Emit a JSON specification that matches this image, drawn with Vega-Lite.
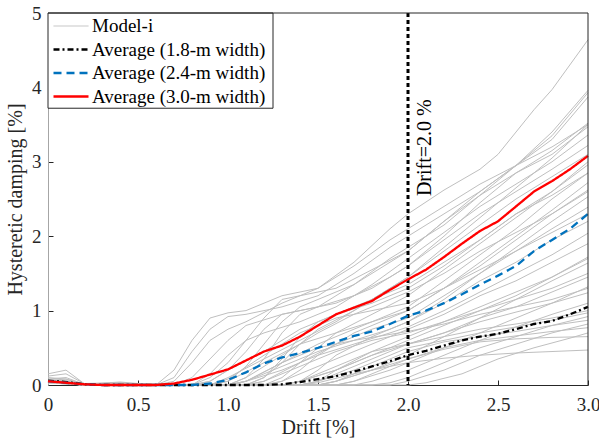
{
"$schema":"https://vega.github.io/schema/vega-lite/v6.json",
"width":540,"height":372,
"autosize":{"type":"none"},
"padding":{"left":48,"top":13,"right":11,"bottom":56},
"config":{
 "font":"Liberation Serif",
 "view":{"stroke":null}
},
"datasets":{
"models":[
{"m":1,"x":0,"y":0.06},{"m":1,"x":0.1,"y":0.05},{"m":1,"x":0.2,"y":0.01},{"m":1,"x":0.4,"y":0.03},{"m":1,"x":0.5,"y":0.01},{"m":1,"x":0.6,"y":0},{"m":1,"x":0.7,"y":0.2},{"m":1,"x":0.8,"y":0.6},{"m":1,"x":0.9,"y":0.9},{"m":1,"x":1.0,"y":0.97},{"m":1,"x":1.1,"y":1.0},{"m":1,"x":1.3,"y":1.2},{"m":1,"x":1.5,"y":1.3},{"m":1,"x":1.7,"y":1.65},{"m":1,"x":1.9,"y":2.1},{"m":1,"x":2.0,"y":2.3},{"m":1,"x":2.2,"y":2.62},{"m":1,"x":2.4,"y":2.9},{"m":1,"x":2.5,"y":3.1},{"m":1,"x":2.6,"y":3.4},{"m":1,"x":2.7,"y":3.7},{"m":1,"x":2.8,"y":3.97},{"m":1,"x":3.0,"y":4.64},
{"m":2,"x":0,"y":0.15},{"m":2,"x":0.1,"y":0.2},{"m":2,"x":0.2,"y":0.02},{"m":2,"x":0.4,"y":0.02},{"m":2,"x":0.6,"y":0},{"m":2,"x":0.7,"y":0.1},{"m":2,"x":0.8,"y":0.45},{"m":2,"x":0.9,"y":0.75},{"m":2,"x":1.0,"y":0.92},{"m":2,"x":1.1,"y":0.95},{"m":2,"x":1.3,"y":1.05},{"m":2,"x":1.5,"y":1.2},{"m":2,"x":1.7,"y":1.5},{"m":2,"x":1.9,"y":1.85},{"m":2,"x":2.0,"y":2.0},{"m":2,"x":2.2,"y":2.3},{"m":2,"x":2.4,"y":2.6},{"m":2,"x":2.6,"y":2.95},{"m":2,"x":2.8,"y":3.4},{"m":2,"x":3.0,"y":3.96},
{"m":3,"x":0,"y":0.04},{"m":3,"x":0.1,"y":0.03},{"m":3,"x":0.2,"y":0},{"m":3,"x":0.7,"y":0},{"m":3,"x":0.8,"y":0.1},{"m":3,"x":0.9,"y":0.35},{"m":3,"x":1.0,"y":0.6},{"m":3,"x":1.1,"y":0.8},{"m":3,"x":1.3,"y":0.95},{"m":3,"x":1.5,"y":1.05},{"m":3,"x":1.7,"y":1.35},{"m":3,"x":1.9,"y":1.7},{"m":3,"x":2.0,"y":1.85},{"m":3,"x":2.2,"y":2.15},{"m":3,"x":2.4,"y":2.55},{"m":3,"x":2.6,"y":2.95},{"m":3,"x":2.8,"y":3.35},{"m":3,"x":3.0,"y":3.93},
{"m":4,"x":0,"y":0.08},{"m":4,"x":0.1,"y":0.1},{"m":4,"x":0.2,"y":0.01},{"m":4,"x":0.4,"y":0.04},{"m":4,"x":0.5,"y":0.02},{"m":4,"x":0.8,"y":0},{"m":4,"x":0.9,"y":0.1},{"m":4,"x":1.0,"y":0.3},{"m":4,"x":1.1,"y":0.6},{"m":4,"x":1.2,"y":0.9},{"m":4,"x":1.3,"y":1.15},{"m":4,"x":1.4,"y":1.2},{"m":4,"x":1.6,"y":1.3},{"m":4,"x":1.8,"y":1.55},{"m":4,"x":2.0,"y":1.8},{"m":4,"x":2.2,"y":2.2},{"m":4,"x":2.4,"y":2.6},{"m":4,"x":2.6,"y":2.95},{"m":4,"x":2.8,"y":3.3},{"m":4,"x":3.0,"y":3.87},
{"m":5,"x":0,"y":0.03},{"m":5,"x":0.2,"y":0},{"m":5,"x":0.8,"y":0},{"m":5,"x":0.9,"y":0.05},{"m":5,"x":1.0,"y":0.2},{"m":5,"x":1.1,"y":0.45},{"m":5,"x":1.2,"y":0.75},{"m":5,"x":1.3,"y":0.95},{"m":5,"x":1.4,"y":1.0},{"m":5,"x":1.6,"y":1.1},{"m":5,"x":1.8,"y":1.3},{"m":5,"x":2.0,"y":1.6},{"m":5,"x":2.2,"y":2.0},{"m":5,"x":2.4,"y":2.45},{"m":5,"x":2.6,"y":2.85},{"m":5,"x":2.8,"y":3.15},{"m":5,"x":3.0,"y":3.52},
{"m":6,"x":0,"y":0.05},{"m":6,"x":0.1,"y":0.04},{"m":6,"x":0.2,"y":0},{"m":6,"x":0.9,"y":0},{"m":6,"x":1.0,"y":0.05},{"m":6,"x":1.1,"y":0.25},{"m":6,"x":1.2,"y":0.55},{"m":6,"x":1.3,"y":0.85},{"m":6,"x":1.4,"y":1.05},{"m":6,"x":1.5,"y":1.15},{"m":6,"x":1.7,"y":1.35},{"m":6,"x":1.9,"y":1.65},{"m":6,"x":2.0,"y":1.8},{"m":6,"x":2.2,"y":2.2},{"m":6,"x":2.4,"y":2.55},{"m":6,"x":2.6,"y":2.85},{"m":6,"x":2.8,"y":3.1},{"m":6,"x":3.0,"y":3.47},
{"m":7,"x":0,"y":0.06},{"m":7,"x":0.1,"y":0.05},{"m":7,"x":0.2,"y":0.01},{"m":7,"x":0.8,"y":0},{"m":7,"x":0.9,"y":0.15},{"m":7,"x":1.0,"y":0.4},{"m":7,"x":1.1,"y":0.6},{"m":7,"x":1.2,"y":0.7},{"m":7,"x":1.4,"y":0.85},{"m":7,"x":1.6,"y":1.05},{"m":7,"x":1.8,"y":1.35},{"m":7,"x":2.0,"y":1.7},{"m":7,"x":2.2,"y":2.05},{"m":7,"x":2.4,"y":2.4},{"m":7,"x":2.6,"y":2.7},{"m":7,"x":2.8,"y":3.0},{"m":7,"x":3.0,"y":3.36},
{"m":8,"x":0,"y":0.04},{"m":8,"x":0.2,"y":0},{"m":8,"x":1.0,"y":0},{"m":8,"x":1.1,"y":0.1},{"m":8,"x":1.2,"y":0.35},{"m":8,"x":1.3,"y":0.7},{"m":8,"x":1.4,"y":0.95},{"m":8,"x":1.5,"y":1.05},{"m":8,"x":1.7,"y":1.2},{"m":8,"x":1.9,"y":1.45},{"m":8,"x":2.0,"y":1.6},{"m":8,"x":2.2,"y":1.95},{"m":8,"x":2.4,"y":2.3},{"m":8,"x":2.6,"y":2.6},{"m":8,"x":2.8,"y":2.9},{"m":8,"x":3.0,"y":3.22},
{"m":9,"x":0,"y":0.05},{"m":9,"x":0.1,"y":0.04},{"m":9,"x":0.2,"y":0},{"m":9,"x":0.9,"y":0},{"m":9,"x":1.0,"y":0.1},{"m":9,"x":1.2,"y":0.35},{"m":9,"x":1.4,"y":0.6},{"m":9,"x":1.6,"y":0.85},{"m":9,"x":1.8,"y":1.15},{"m":9,"x":2.0,"y":1.45},{"m":9,"x":2.2,"y":1.8},{"m":9,"x":2.4,"y":2.15},{"m":9,"x":2.6,"y":2.5},{"m":9,"x":2.8,"y":2.8},{"m":9,"x":3.0,"y":3.1},
{"m":10,"x":0,"y":0.1},{"m":10,"x":0.1,"y":0.08},{"m":10,"x":0.2,"y":0.01},{"m":10,"x":0.8,"y":0},{"m":10,"x":0.9,"y":0.05},{"m":10,"x":1.0,"y":0.2},{"m":10,"x":1.2,"y":0.45},{"m":10,"x":1.4,"y":0.75},{"m":10,"x":1.6,"y":0.95},{"m":10,"x":1.8,"y":1.15},{"m":10,"x":2.0,"y":1.35},{"m":10,"x":2.2,"y":1.65},{"m":10,"x":2.4,"y":1.95},{"m":10,"x":2.6,"y":2.3},{"m":10,"x":2.8,"y":2.6},{"m":10,"x":3.0,"y":2.96},
{"m":11,"x":0,"y":0.04},{"m":11,"x":0.2,"y":0},{"m":11,"x":1.1,"y":0},{"m":11,"x":1.2,"y":0.1},{"m":11,"x":1.3,"y":0.35},{"m":11,"x":1.4,"y":0.65},{"m":11,"x":1.5,"y":0.85},{"m":11,"x":1.6,"y":0.95},{"m":11,"x":1.8,"y":1.1},{"m":11,"x":2.0,"y":1.3},{"m":11,"x":2.2,"y":1.6},{"m":11,"x":2.4,"y":1.95},{"m":11,"x":2.6,"y":2.3},{"m":11,"x":2.8,"y":2.55},{"m":11,"x":3.0,"y":2.85},
{"m":12,"x":0,"y":0.05},{"m":12,"x":0.2,"y":0},{"m":12,"x":1.0,"y":0},{"m":12,"x":1.1,"y":0.1},{"m":12,"x":1.3,"y":0.4},{"m":12,"x":1.5,"y":0.7},{"m":12,"x":1.7,"y":0.95},{"m":12,"x":1.9,"y":1.15},{"m":12,"x":2.0,"y":1.25},{"m":12,"x":2.2,"y":1.5},{"m":12,"x":2.4,"y":1.8},{"m":12,"x":2.6,"y":2.05},{"m":12,"x":2.8,"y":2.3},{"m":12,"x":3.0,"y":2.6},
{"m":13,"x":0,"y":0.07},{"m":13,"x":0.1,"y":0.06},{"m":13,"x":0.2,"y":0.01},{"m":13,"x":0.9,"y":0},{"m":13,"x":1.0,"y":0.08},{"m":13,"x":1.2,"y":0.4},{"m":13,"x":1.4,"y":0.7},{"m":13,"x":1.6,"y":0.9},{"m":13,"x":1.8,"y":1.0},{"m":13,"x":2.0,"y":1.1},{"m":13,"x":2.2,"y":1.3},{"m":13,"x":2.4,"y":1.55},{"m":13,"x":2.6,"y":1.8},{"m":13,"x":2.8,"y":2.05},{"m":13,"x":3.0,"y":2.3},
{"m":14,"x":0,"y":0.12},{"m":14,"x":0.1,"y":0.15},{"m":14,"x":0.2,"y":0.02},{"m":14,"x":0.4,"y":0.03},{"m":14,"x":0.6,"y":0},{"m":14,"x":0.7,"y":0.05},{"m":14,"x":0.8,"y":0.3},{"m":14,"x":0.9,"y":0.6},{"m":14,"x":1.0,"y":0.75},{"m":14,"x":1.1,"y":0.85},{"m":14,"x":1.3,"y":1.1},{"m":14,"x":1.5,"y":1.3},{"m":14,"x":1.7,"y":1.6},{"m":14,"x":1.9,"y":1.95},{"m":14,"x":2.0,"y":2.1},{"m":14,"x":2.2,"y":2.4},{"m":14,"x":2.4,"y":2.7},{"m":14,"x":2.6,"y":2.95},{"m":14,"x":2.8,"y":3.2},{"m":14,"x":3.0,"y":3.5},
{"m":15,"x":0,"y":0.05},{"m":15,"x":0.2,"y":0},{"m":15,"x":1.1,"y":0},{"m":15,"x":1.2,"y":0.1},{"m":15,"x":1.3,"y":0.3},{"m":15,"x":1.4,"y":0.55},{"m":15,"x":1.5,"y":0.75},{"m":15,"x":1.7,"y":1.0},{"m":15,"x":1.9,"y":1.3},{"m":15,"x":2.0,"y":1.45},{"m":15,"x":2.2,"y":1.85},{"m":15,"x":2.4,"y":2.25},{"m":15,"x":2.6,"y":2.65},{"m":15,"x":2.8,"y":3.05},{"m":15,"x":3.0,"y":3.5},
{"m":16,"x":0,"y":0.06},{"m":16,"x":0.1,"y":0.05},{"m":16,"x":0.2,"y":0},{"m":16,"x":1.2,"y":0},{"m":16,"x":1.3,"y":0.1},{"m":16,"x":1.4,"y":0.3},{"m":16,"x":1.5,"y":0.5},{"m":16,"x":1.6,"y":0.7},{"m":16,"x":1.8,"y":0.95},{"m":16,"x":2.0,"y":1.2},{"m":16,"x":2.2,"y":1.55},{"m":16,"x":2.4,"y":1.9},{"m":16,"x":2.6,"y":2.25},{"m":16,"x":2.8,"y":2.6},{"m":16,"x":3.0,"y":3.0},
{"m":17,"x":0,"y":0.04},{"m":17,"x":0.2,"y":0},{"m":17,"x":1.0,"y":0},{"m":17,"x":1.1,"y":0.05},{"m":17,"x":1.3,"y":0.3},{"m":17,"x":1.5,"y":0.55},{"m":17,"x":1.7,"y":0.75},{"m":17,"x":1.9,"y":0.95},{"m":17,"x":2.0,"y":1.05},{"m":17,"x":2.2,"y":1.4},{"m":17,"x":2.4,"y":1.75},{"m":17,"x":2.6,"y":2.1},{"m":17,"x":2.8,"y":2.5},{"m":17,"x":3.0,"y":2.85},
{"m":18,"x":0,"y":0.05},{"m":18,"x":0.2,"y":0},{"m":18,"x":0.9,"y":0},{"m":18,"x":1.0,"y":0.05},{"m":18,"x":1.2,"y":0.3},{"m":18,"x":1.4,"y":0.55},{"m":18,"x":1.6,"y":0.7},{"m":18,"x":1.8,"y":0.85},{"m":18,"x":2.0,"y":1.0},{"m":18,"x":2.2,"y":1.3},{"m":18,"x":2.4,"y":1.65},{"m":18,"x":2.6,"y":2.0},{"m":18,"x":2.8,"y":2.35},{"m":18,"x":3.0,"y":2.72},
{"m":19,"x":0,"y":0.03},{"m":19,"x":0.2,"y":0},{"m":19,"x":1.2,"y":0},{"m":19,"x":1.3,"y":0.05},{"m":19,"x":1.4,"y":0.2},{"m":19,"x":1.5,"y":0.4},{"m":19,"x":1.7,"y":0.7},{"m":19,"x":1.9,"y":0.9},{"m":19,"x":2.0,"y":1.0},{"m":19,"x":2.2,"y":1.3},{"m":19,"x":2.4,"y":1.6},{"m":19,"x":2.6,"y":1.95},{"m":19,"x":2.8,"y":2.3},{"m":19,"x":3.0,"y":2.62},
{"m":20,"x":0,"y":0.06},{"m":20,"x":0.1,"y":0.08},{"m":20,"x":0.2,"y":0.01},{"m":20,"x":1.0,"y":0},{"m":20,"x":1.1,"y":0.05},{"m":20,"x":1.3,"y":0.25},{"m":20,"x":1.5,"y":0.45},{"m":20,"x":1.7,"y":0.6},{"m":20,"x":1.9,"y":0.75},{"m":20,"x":2.0,"y":0.85},{"m":20,"x":2.2,"y":1.15},{"m":20,"x":2.4,"y":1.5},{"m":20,"x":2.6,"y":1.85},{"m":20,"x":2.8,"y":2.2},{"m":20,"x":3.0,"y":2.53},
{"m":21,"x":0,"y":0.05},{"m":21,"x":0.2,"y":0},{"m":21,"x":1.1,"y":0},{"m":21,"x":1.2,"y":0.05},{"m":21,"x":1.4,"y":0.3},{"m":21,"x":1.6,"y":0.55},{"m":21,"x":1.8,"y":0.75},{"m":21,"x":2.0,"y":0.9},{"m":21,"x":2.2,"y":1.2},{"m":21,"x":2.4,"y":1.5},{"m":21,"x":2.6,"y":1.8},{"m":21,"x":2.8,"y":2.1},{"m":21,"x":3.0,"y":2.39},
{"m":22,"x":0,"y":0.04},{"m":22,"x":0.2,"y":0},{"m":22,"x":1.3,"y":0},{"m":22,"x":1.4,"y":0.05},{"m":22,"x":1.5,"y":0.2},{"m":22,"x":1.6,"y":0.4},{"m":22,"x":1.8,"y":0.65},{"m":22,"x":2.0,"y":0.85},{"m":22,"x":2.2,"y":1.1},{"m":22,"x":2.4,"y":1.4},{"m":22,"x":2.6,"y":1.65},{"m":22,"x":2.8,"y":1.95},{"m":22,"x":3.0,"y":2.2},
{"m":23,"x":0,"y":0.05},{"m":23,"x":0.1,"y":0.04},{"m":23,"x":0.2,"y":0},{"m":23,"x":1.0,"y":0},{"m":23,"x":1.1,"y":0.05},{"m":23,"x":1.3,"y":0.2},{"m":23,"x":1.5,"y":0.4},{"m":23,"x":1.7,"y":0.55},{"m":23,"x":1.9,"y":0.7},{"m":23,"x":2.0,"y":0.78},{"m":23,"x":2.2,"y":1.0},{"m":23,"x":2.4,"y":1.25},{"m":23,"x":2.6,"y":1.5},{"m":23,"x":2.8,"y":1.75},{"m":23,"x":3.0,"y":2.04},
{"m":24,"x":0,"y":0.07},{"m":24,"x":0.2,"y":0.01},{"m":24,"x":1.2,"y":0},{"m":24,"x":1.3,"y":0.05},{"m":24,"x":1.5,"y":0.25},{"m":24,"x":1.7,"y":0.45},{"m":24,"x":1.9,"y":0.65},{"m":24,"x":2.0,"y":0.75},{"m":24,"x":2.2,"y":0.95},{"m":24,"x":2.4,"y":1.2},{"m":24,"x":2.6,"y":1.4},{"m":24,"x":2.8,"y":1.65},{"m":24,"x":3.0,"y":1.9},
{"m":25,"x":0,"y":0.04},{"m":25,"x":0.2,"y":0},{"m":25,"x":1.4,"y":0},{"m":25,"x":1.5,"y":0.05},{"m":25,"x":1.6,"y":0.2},{"m":25,"x":1.8,"y":0.45},{"m":25,"x":2.0,"y":0.65},{"m":25,"x":2.2,"y":0.85},{"m":25,"x":2.4,"y":1.05},{"m":25,"x":2.6,"y":1.25},{"m":25,"x":2.8,"y":1.45},{"m":25,"x":3.0,"y":1.7},
{"m":26,"x":0,"y":0.05},{"m":26,"x":0.2,"y":0},{"m":26,"x":1.1,"y":0},{"m":26,"x":1.2,"y":0.05},{"m":26,"x":1.4,"y":0.25},{"m":26,"x":1.6,"y":0.45},{"m":26,"x":1.8,"y":0.6},{"m":26,"x":2.0,"y":0.7},{"m":26,"x":2.2,"y":0.85},{"m":26,"x":2.4,"y":1.0},{"m":26,"x":2.6,"y":1.15},{"m":26,"x":2.8,"y":1.3},{"m":26,"x":3.0,"y":1.5},
{"m":27,"x":0,"y":0.06},{"m":27,"x":0.2,"y":0.01},{"m":27,"x":1.0,"y":0},{"m":27,"x":1.1,"y":0.05},{"m":27,"x":1.3,"y":0.3},{"m":27,"x":1.5,"y":0.5},{"m":27,"x":1.7,"y":0.6},{"m":27,"x":1.9,"y":0.68},{"m":27,"x":2.0,"y":0.72},{"m":27,"x":2.2,"y":0.82},{"m":27,"x":2.4,"y":0.95},{"m":27,"x":2.6,"y":1.05},{"m":27,"x":2.8,"y":1.15},{"m":27,"x":3.0,"y":1.3},
{"m":28,"x":0,"y":0.04},{"m":28,"x":0.2,"y":0},{"m":28,"x":1.3,"y":0},{"m":28,"x":1.4,"y":0.05},{"m":28,"x":1.6,"y":0.25},{"m":28,"x":1.8,"y":0.45},{"m":28,"x":2.0,"y":0.55},{"m":28,"x":2.2,"y":0.65},{"m":28,"x":2.4,"y":0.75},{"m":28,"x":2.6,"y":0.82},{"m":28,"x":2.8,"y":0.9},{"m":28,"x":3.0,"y":1.0},
{"m":29,"x":0,"y":0.05},{"m":29,"x":0.2,"y":0},{"m":29,"x":1.3,"y":0},{"m":29,"x":1.4,"y":0.05},{"m":29,"x":1.6,"y":0.2},{"m":29,"x":1.8,"y":0.4},{"m":29,"x":2.0,"y":0.6},{"m":29,"x":2.2,"y":0.8},{"m":29,"x":2.4,"y":1.0},{"m":29,"x":2.6,"y":1.2},{"m":29,"x":2.8,"y":1.45},{"m":29,"x":3.0,"y":1.72},
{"m":30,"x":0,"y":0.04},{"m":30,"x":0.2,"y":0},{"m":30,"x":1.5,"y":0},{"m":30,"x":1.6,"y":0.05},{"m":30,"x":1.8,"y":0.2},{"m":30,"x":2.0,"y":0.4},{"m":30,"x":2.2,"y":0.65},{"m":30,"x":2.4,"y":0.9},{"m":30,"x":2.6,"y":1.15},{"m":30,"x":2.8,"y":1.4},{"m":30,"x":3.0,"y":1.64},
{"m":31,"x":0,"y":0.06},{"m":31,"x":0.1,"y":0.05},{"m":31,"x":0.2,"y":0},{"m":31,"x":1.4,"y":0},{"m":31,"x":1.5,"y":0.05},{"m":31,"x":1.7,"y":0.25},{"m":31,"x":1.9,"y":0.45},{"m":31,"x":2.0,"y":0.55},{"m":31,"x":2.2,"y":0.7},{"m":31,"x":2.4,"y":0.9},{"m":31,"x":2.6,"y":1.05},{"m":31,"x":2.8,"y":1.25},{"m":31,"x":3.0,"y":1.45},
{"m":32,"x":0,"y":0.05},{"m":32,"x":0.2,"y":0},{"m":32,"x":1.6,"y":0},{"m":32,"x":1.7,"y":0.05},{"m":32,"x":1.9,"y":0.2},{"m":32,"x":2.0,"y":0.3},{"m":32,"x":2.2,"y":0.5},{"m":32,"x":2.4,"y":0.7},{"m":32,"x":2.6,"y":0.9},{"m":32,"x":2.8,"y":1.1},{"m":32,"x":3.0,"y":1.32},
{"m":33,"x":0,"y":0.03},{"m":33,"x":0.2,"y":0},{"m":33,"x":1.3,"y":0},{"m":33,"x":1.4,"y":0.05},{"m":33,"x":1.6,"y":0.2},{"m":33,"x":1.8,"y":0.4},{"m":33,"x":2.0,"y":0.55},{"m":33,"x":2.2,"y":0.7},{"m":33,"x":2.4,"y":0.85},{"m":33,"x":2.6,"y":0.98},{"m":33,"x":2.8,"y":1.1},{"m":33,"x":3.0,"y":1.24},
{"m":34,"x":0,"y":0.05},{"m":34,"x":0.2,"y":0},{"m":34,"x":1.7,"y":0},{"m":34,"x":1.8,"y":0.05},{"m":34,"x":2.0,"y":0.2},{"m":34,"x":2.2,"y":0.4},{"m":34,"x":2.4,"y":0.6},{"m":34,"x":2.6,"y":0.78},{"m":34,"x":2.8,"y":0.95},{"m":34,"x":3.0,"y":1.1},
{"m":35,"x":0,"y":0.04},{"m":35,"x":0.2,"y":0},{"m":35,"x":1.4,"y":0},{"m":35,"x":1.5,"y":0.05},{"m":35,"x":1.7,"y":0.2},{"m":35,"x":1.9,"y":0.4},{"m":35,"x":2.0,"y":0.5},{"m":35,"x":2.2,"y":0.6},{"m":35,"x":2.4,"y":0.7},{"m":35,"x":2.6,"y":0.78},{"m":35,"x":2.8,"y":0.87},{"m":35,"x":3.0,"y":0.97},
{"m":36,"x":0,"y":0.05},{"m":36,"x":0.2,"y":0},{"m":36,"x":1.8,"y":0},{"m":36,"x":1.9,"y":0.03},{"m":36,"x":2.0,"y":0.1},{"m":36,"x":2.2,"y":0.3},{"m":36,"x":2.4,"y":0.5},{"m":36,"x":2.6,"y":0.65},{"m":36,"x":2.8,"y":0.8},{"m":36,"x":3.0,"y":0.92},
{"m":37,"x":0,"y":0.06},{"m":37,"x":0.2,"y":0.01},{"m":37,"x":1.5,"y":0},{"m":37,"x":1.6,"y":0.05},{"m":37,"x":1.8,"y":0.25},{"m":37,"x":2.0,"y":0.45},{"m":37,"x":2.2,"y":0.58},{"m":37,"x":2.4,"y":0.65},{"m":37,"x":2.6,"y":0.72},{"m":37,"x":2.8,"y":0.8},{"m":37,"x":3.0,"y":0.87},
{"m":38,"x":0,"y":0.04},{"m":38,"x":0.2,"y":0},{"m":38,"x":1.9,"y":0},{"m":38,"x":2.0,"y":0.05},{"m":38,"x":2.2,"y":0.2},{"m":38,"x":2.4,"y":0.4},{"m":38,"x":2.6,"y":0.55},{"m":38,"x":2.8,"y":0.7},{"m":38,"x":3.0,"y":0.82},
{"m":39,"x":0,"y":0.05},{"m":39,"x":0.2,"y":0},{"m":39,"x":1.6,"y":0},{"m":39,"x":1.7,"y":0.05},{"m":39,"x":1.9,"y":0.25},{"m":39,"x":2.0,"y":0.35},{"m":39,"x":2.2,"y":0.5},{"m":39,"x":2.4,"y":0.6},{"m":39,"x":2.6,"y":0.66},{"m":39,"x":2.8,"y":0.72},{"m":39,"x":3.0,"y":0.77},
{"m":40,"x":0,"y":0.04},{"m":40,"x":0.2,"y":0},{"m":40,"x":2.0,"y":0},{"m":40,"x":2.1,"y":0.03},{"m":40,"x":2.3,"y":0.15},{"m":40,"x":2.5,"y":0.35},{"m":40,"x":2.7,"y":0.5},{"m":40,"x":2.9,"y":0.63},{"m":40,"x":3.0,"y":0.7},
{"m":41,"x":0,"y":0.05},{"m":41,"x":0.2,"y":0},{"m":41,"x":1.5,"y":0},{"m":41,"x":1.6,"y":0.05},{"m":41,"x":1.8,"y":0.2},{"m":41,"x":2.0,"y":0.35},{"m":41,"x":2.2,"y":0.48},{"m":41,"x":2.4,"y":0.58},{"m":41,"x":2.6,"y":0.62},{"m":41,"x":2.8,"y":0.64},{"m":41,"x":3.0,"y":0.65},
{"m":42,"x":0,"y":0.05},{"m":42,"x":0.2,"y":0},{"m":42,"x":1.4,"y":0},{"m":42,"x":1.5,"y":0.03},{"m":42,"x":1.7,"y":0.15},{"m":42,"x":1.9,"y":0.25},{"m":42,"x":2.0,"y":0.3},{"m":42,"x":2.2,"y":0.36},{"m":42,"x":2.4,"y":0.4},{"m":42,"x":2.6,"y":0.43},{"m":42,"x":2.8,"y":0.45},{"m":42,"x":3.0,"y":0.47}
],
"avg":[
{"s":"Average (1.8-m width)","x":0,"y":0.06},{"s":"Average (1.8-m width)","x":0.1,"y":0.04},{"s":"Average (1.8-m width)","x":0.2,"y":0.01},{"s":"Average (1.8-m width)","x":0.3,"y":0},{"s":"Average (1.8-m width)","x":0.6,"y":0},{"s":"Average (1.8-m width)","x":0.9,"y":0},{"s":"Average (1.8-m width)","x":1.2,"y":0},{"s":"Average (1.8-m width)","x":1.3,"y":0.01},{"s":"Average (1.8-m width)","x":1.4,"y":0.04},{"s":"Average (1.8-m width)","x":1.5,"y":0.08},{"s":"Average (1.8-m width)","x":1.6,"y":0.12},{"s":"Average (1.8-m width)","x":1.7,"y":0.18},{"s":"Average (1.8-m width)","x":1.8,"y":0.25},{"s":"Average (1.8-m width)","x":1.9,"y":0.32},{"s":"Average (1.8-m width)","x":2.0,"y":0.4},{"s":"Average (1.8-m width)","x":2.1,"y":0.46},{"s":"Average (1.8-m width)","x":2.2,"y":0.53},{"s":"Average (1.8-m width)","x":2.3,"y":0.6},{"s":"Average (1.8-m width)","x":2.4,"y":0.65},{"s":"Average (1.8-m width)","x":2.5,"y":0.69},{"s":"Average (1.8-m width)","x":2.6,"y":0.75},{"s":"Average (1.8-m width)","x":2.7,"y":0.82},{"s":"Average (1.8-m width)","x":2.8,"y":0.86},{"s":"Average (1.8-m width)","x":2.9,"y":0.95},{"s":"Average (1.8-m width)","x":3.0,"y":1.05},
{"s":"Average (2.4-m width)","x":0,"y":0.05},{"s":"Average (2.4-m width)","x":0.1,"y":0.03},{"s":"Average (2.4-m width)","x":0.2,"y":0.01},{"s":"Average (2.4-m width)","x":0.3,"y":0},{"s":"Average (2.4-m width)","x":0.6,"y":0},{"s":"Average (2.4-m width)","x":0.8,"y":0},{"s":"Average (2.4-m width)","x":0.9,"y":0.02},{"s":"Average (2.4-m width)","x":1.0,"y":0.07},{"s":"Average (2.4-m width)","x":1.1,"y":0.17},{"s":"Average (2.4-m width)","x":1.2,"y":0.29},{"s":"Average (2.4-m width)","x":1.3,"y":0.37},{"s":"Average (2.4-m width)","x":1.4,"y":0.43},{"s":"Average (2.4-m width)","x":1.5,"y":0.5},{"s":"Average (2.4-m width)","x":1.6,"y":0.58},{"s":"Average (2.4-m width)","x":1.7,"y":0.66},{"s":"Average (2.4-m width)","x":1.8,"y":0.72},{"s":"Average (2.4-m width)","x":1.9,"y":0.82},{"s":"Average (2.4-m width)","x":2.0,"y":0.93},{"s":"Average (2.4-m width)","x":2.1,"y":1.0},{"s":"Average (2.4-m width)","x":2.2,"y":1.1},{"s":"Average (2.4-m width)","x":2.3,"y":1.22},{"s":"Average (2.4-m width)","x":2.4,"y":1.35},{"s":"Average (2.4-m width)","x":2.5,"y":1.47},{"s":"Average (2.4-m width)","x":2.6,"y":1.6},{"s":"Average (2.4-m width)","x":2.7,"y":1.8},{"s":"Average (2.4-m width)","x":2.8,"y":1.95},{"s":"Average (2.4-m width)","x":2.9,"y":2.1},{"s":"Average (2.4-m width)","x":3.0,"y":2.3},
{"s":"Average (3.0-m width)","x":0,"y":0.05},{"s":"Average (3.0-m width)","x":0.1,"y":0.03},{"s":"Average (3.0-m width)","x":0.2,"y":0.01},{"s":"Average (3.0-m width)","x":0.3,"y":0},{"s":"Average (3.0-m width)","x":0.6,"y":0},{"s":"Average (3.0-m width)","x":0.7,"y":0.02},{"s":"Average (3.0-m width)","x":0.8,"y":0.07},{"s":"Average (3.0-m width)","x":0.9,"y":0.14},{"s":"Average (3.0-m width)","x":1.0,"y":0.21},{"s":"Average (3.0-m width)","x":1.1,"y":0.33},{"s":"Average (3.0-m width)","x":1.2,"y":0.45},{"s":"Average (3.0-m width)","x":1.3,"y":0.53},{"s":"Average (3.0-m width)","x":1.4,"y":0.65},{"s":"Average (3.0-m width)","x":1.5,"y":0.8},{"s":"Average (3.0-m width)","x":1.6,"y":0.95},{"s":"Average (3.0-m width)","x":1.7,"y":1.04},{"s":"Average (3.0-m width)","x":1.8,"y":1.13},{"s":"Average (3.0-m width)","x":1.9,"y":1.28},{"s":"Average (3.0-m width)","x":2.0,"y":1.42},{"s":"Average (3.0-m width)","x":2.1,"y":1.55},{"s":"Average (3.0-m width)","x":2.2,"y":1.72},{"s":"Average (3.0-m width)","x":2.3,"y":1.9},{"s":"Average (3.0-m width)","x":2.4,"y":2.07},{"s":"Average (3.0-m width)","x":2.5,"y":2.2},{"s":"Average (3.0-m width)","x":2.6,"y":2.4},{"s":"Average (3.0-m width)","x":2.7,"y":2.6},{"s":"Average (3.0-m width)","x":2.8,"y":2.74},{"s":"Average (3.0-m width)","x":2.9,"y":2.9},{"s":"Average (3.0-m width)","x":3.0,"y":3.08}
],
"marker":[{"x":2}],
"note":[{"x":2.092,"y":3.19,"label":"Drift=2.0 %"}],
"one":[{}]
},
"layer":[
{"data":{"name":"models"},"mark":{"type":"line","color":"#bfbfbf","strokeWidth":1},
 "encoding":{
  "x":{"field":"x","type":"quantitative","scale":{"domain":[0,3],"nice":false,"zero":false},"axis":{"values":[0,0.5,1,1.5,2,2.5,3],"labelExpr":"datum.value == 0 ? '0' : format(datum.value, '.1f')","title":"Drift [%]","grid":false,"labelFont":"Liberation Serif","labelFontSize":19,"labelColor":"#262626","titleFont":"Liberation Serif","titleFontSize":20,"titleFontWeight":"normal","titleColor":"#262626","domainColor":"#262626","tickColor":"#262626","tickSize":-5,"tickWidth":1,"labelFlush":false,"labelOverlap":false,"labelPadding":15,"titlePadding":3}},
  "y":{"field":"y","type":"quantitative","scale":{"domain":[0,5],"nice":false,"zero":false},"axis":{"values":[0,1,2,3,4,5],"format":"d","title":"Hysteretic damping [%]","grid":false,"labelFont":"Liberation Serif","labelFontSize":19,"labelColor":"#262626","titleFont":"Liberation Serif","titleFontSize":20,"titleFontWeight":"normal","titleColor":"#262626","domainColor":"#a6a6a6","tickColor":"#262626","tickSize":-5,"tickWidth":1,"labelFlush":false,"labelOverlap":false,"labelPadding":12,"titlePadding":6}},
  "detail":{"field":"m","type":"nominal"}
 }},
{"data":{"name":"marker"},"mark":{"type":"rule","color":"#000000","strokeWidth":3,"strokeDash":[4,3]},
 "encoding":{"x":{"field":"x","type":"quantitative"}}},
{"data":{"name":"avg"},"mark":{"type":"line"},
 "encoding":{
  "x":{"field":"x","type":"quantitative"},
  "y":{"field":"y","type":"quantitative"},
  "color":{"field":"s","type":"nominal","scale":{"domain":["Model-i","Average (1.8-m width)","Average (2.4-m width)","Average (3.0-m width)"],"range":["#bfbfbf","#000000","#0072bd","#ff0000"]},
   "legend":{"orient":"none","legendX":0,"legendY":0,"title":null,"padding":4,"labelFont":"Liberation Serif","labelFontSize":19,"labelColor":"#000000","labelLimit":400,"symbolType":"stroke","symbolSize":1225,"clipHeight":18,"rowPadding":4.5,"labelOffset":2}},
  "strokeDash":{"field":"s","type":"nominal","scale":{"domain":["Model-i","Average (1.8-m width)","Average (2.4-m width)","Average (3.0-m width)"],"range":[[1,0],[6,3,2,3],[8,5],[1,0]]}},
  "strokeWidth":{"field":"s","type":"nominal","scale":{"type":"ordinal","domain":["Model-i","Average (1.8-m width)","Average (2.4-m width)","Average (3.0-m width)"],"range":[1,2.3,2.3,2.3]}}
 }},
{"data":{"name":"note"},"mark":{"type":"text","angle":270,"align":"center","baseline":"middle","fontSize":20,"font":"Liberation Serif","color":"#000000"},
 "encoding":{"x":{"field":"x","type":"quantitative"},"y":{"field":"y","type":"quantitative"},"text":{"field":"label"}}},
{"data":{"name":"one"},"mark":{"type":"rect","fill":"#ffffff","stroke":"#262626","strokeWidth":1},
 "encoding":{"x":{"datum":0},"x2":{"datum":1.25},"y":{"datum":3.72},"y2":{"datum":5}}},
{"data":{"name":"one"},"mark":{"type":"rule","color":"#262626","strokeWidth":1},
 "encoding":{"x":{"datum":3},"y":{"datum":0},"y2":{"datum":5}}},
{"data":{"name":"one"},"mark":{"type":"rule","color":"#262626","strokeWidth":1},
 "encoding":{"x":{"datum":0},"x2":{"datum":3},"y":{"datum":5}}}
]
}
